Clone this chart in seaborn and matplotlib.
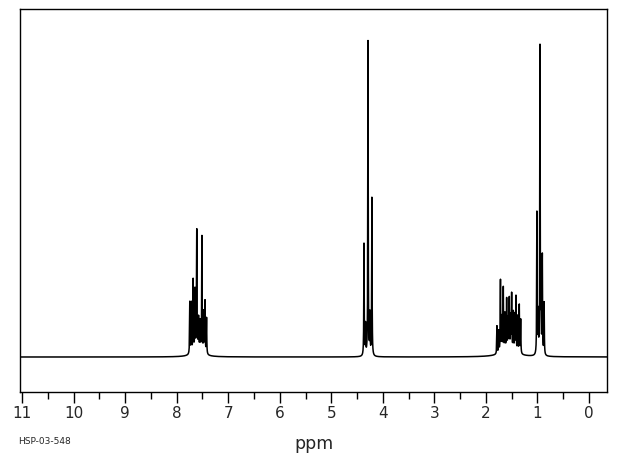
import numpy as np
import pandas as pd
import matplotlib
matplotlib.use("Agg")
import matplotlib.pyplot as plt
import seaborn as sns

# Peak list (ppm, apparent height above baseline)
arom_ppm = [7.745, 7.715, 7.68, 7.645, 7.61, 7.575, 7.545, 7.51, 7.475, 7.45, 7.42]
arom_h = [52, 50, 72, 60, 118, 30, 28, 115, 40, 52, 36]

och2_ppm = [4.365, 4.335, 4.287, 4.25, 4.212]
och2_h = [112, 30, 315, 40, 158]

mult_ppm = [1.785, 1.75, 1.717, 1.69, 1.662, 1.63, 1.597, 1.57, 1.546, 1.52, 1.50,
            1.468, 1.44, 1.416, 1.383, 1.352, 1.325]
mult_h = [28, 22, 72, 34, 63, 36, 50, 30, 50, 32, 55, 38, 36, 55, 36, 48, 34]

ch3_ppm = [1.01, 0.985, 0.95, 0.93, 0.905, 0.87]
ch3_h = [142, 40, 308, 42, 98, 52]

broad_ppm = [7.59, 1.56]
broad_h = [14, 12]

tick_major = list(range(0, 12))
tick_labels = [str(t) for t in tick_major]

# Build the spectrum from the peak list (Lorentzian lines)
x = np.linspace(-0.35, 11.05, 24000)
y = np.zeros_like(x)
g = 0.0045
for centers, heights in [(arom_ppm, arom_h), (och2_ppm, och2_h),
                         (mult_ppm, mult_h), (ch3_ppm, ch3_h)]:
    for c, h in zip(centers, heights):
        y += h * g**2 / ((x - c)**2 + g**2)
for c, h, w in zip(broad_ppm, broad_h, [0.09, 0.16]):
    y += h * w**2 / ((x - c)**2 + w**2) * 0.6
df = pd.DataFrame({"ppm": x, "intensity": y})

sns.set_style("white")
plt.rcParams['font.family'] = ['DejaVu Sans']
fig = plt.figure(figsize=(6.2, 4.55), dpi=100)
ax = fig.add_axes([20/620, 1-392/455, 587/620, 383/455])
sns.lineplot(data=df, x="ppm", y="intensity", ax=ax, color="black",
             linewidth=1.1, estimator=None, sort=False)
ax.set_xlim(11.04, -0.35)
ax.set_ylim(-35, 348)
ax.set_xticks(tick_major)
ax.set_xticklabels(tick_labels, fontsize=11)
ax.set_xticks(np.arange(0.5, 11, 1.0), minor=True)
ax.tick_params(axis="x", which="major", direction="out", length=8, width=1,
               color="black", bottom=True, pad=2)
ax.tick_params(axis="x", which="minor", direction="out", length=5, width=1,
               color="black", bottom=True)
ax.set_yticks([])
ax.set_ylabel("")
ax.set_xlabel("ppm", fontsize=12.5, labelpad=10)
for s in ax.spines.values():
    s.set_color("black")
    s.set_linewidth(1.0)
fig.text(18/620, 1-442/455, "HSP-03-548", fontsize=6.5, va="center", ha="left")
fig.savefig("out.png", dpi=100, facecolor="white")
